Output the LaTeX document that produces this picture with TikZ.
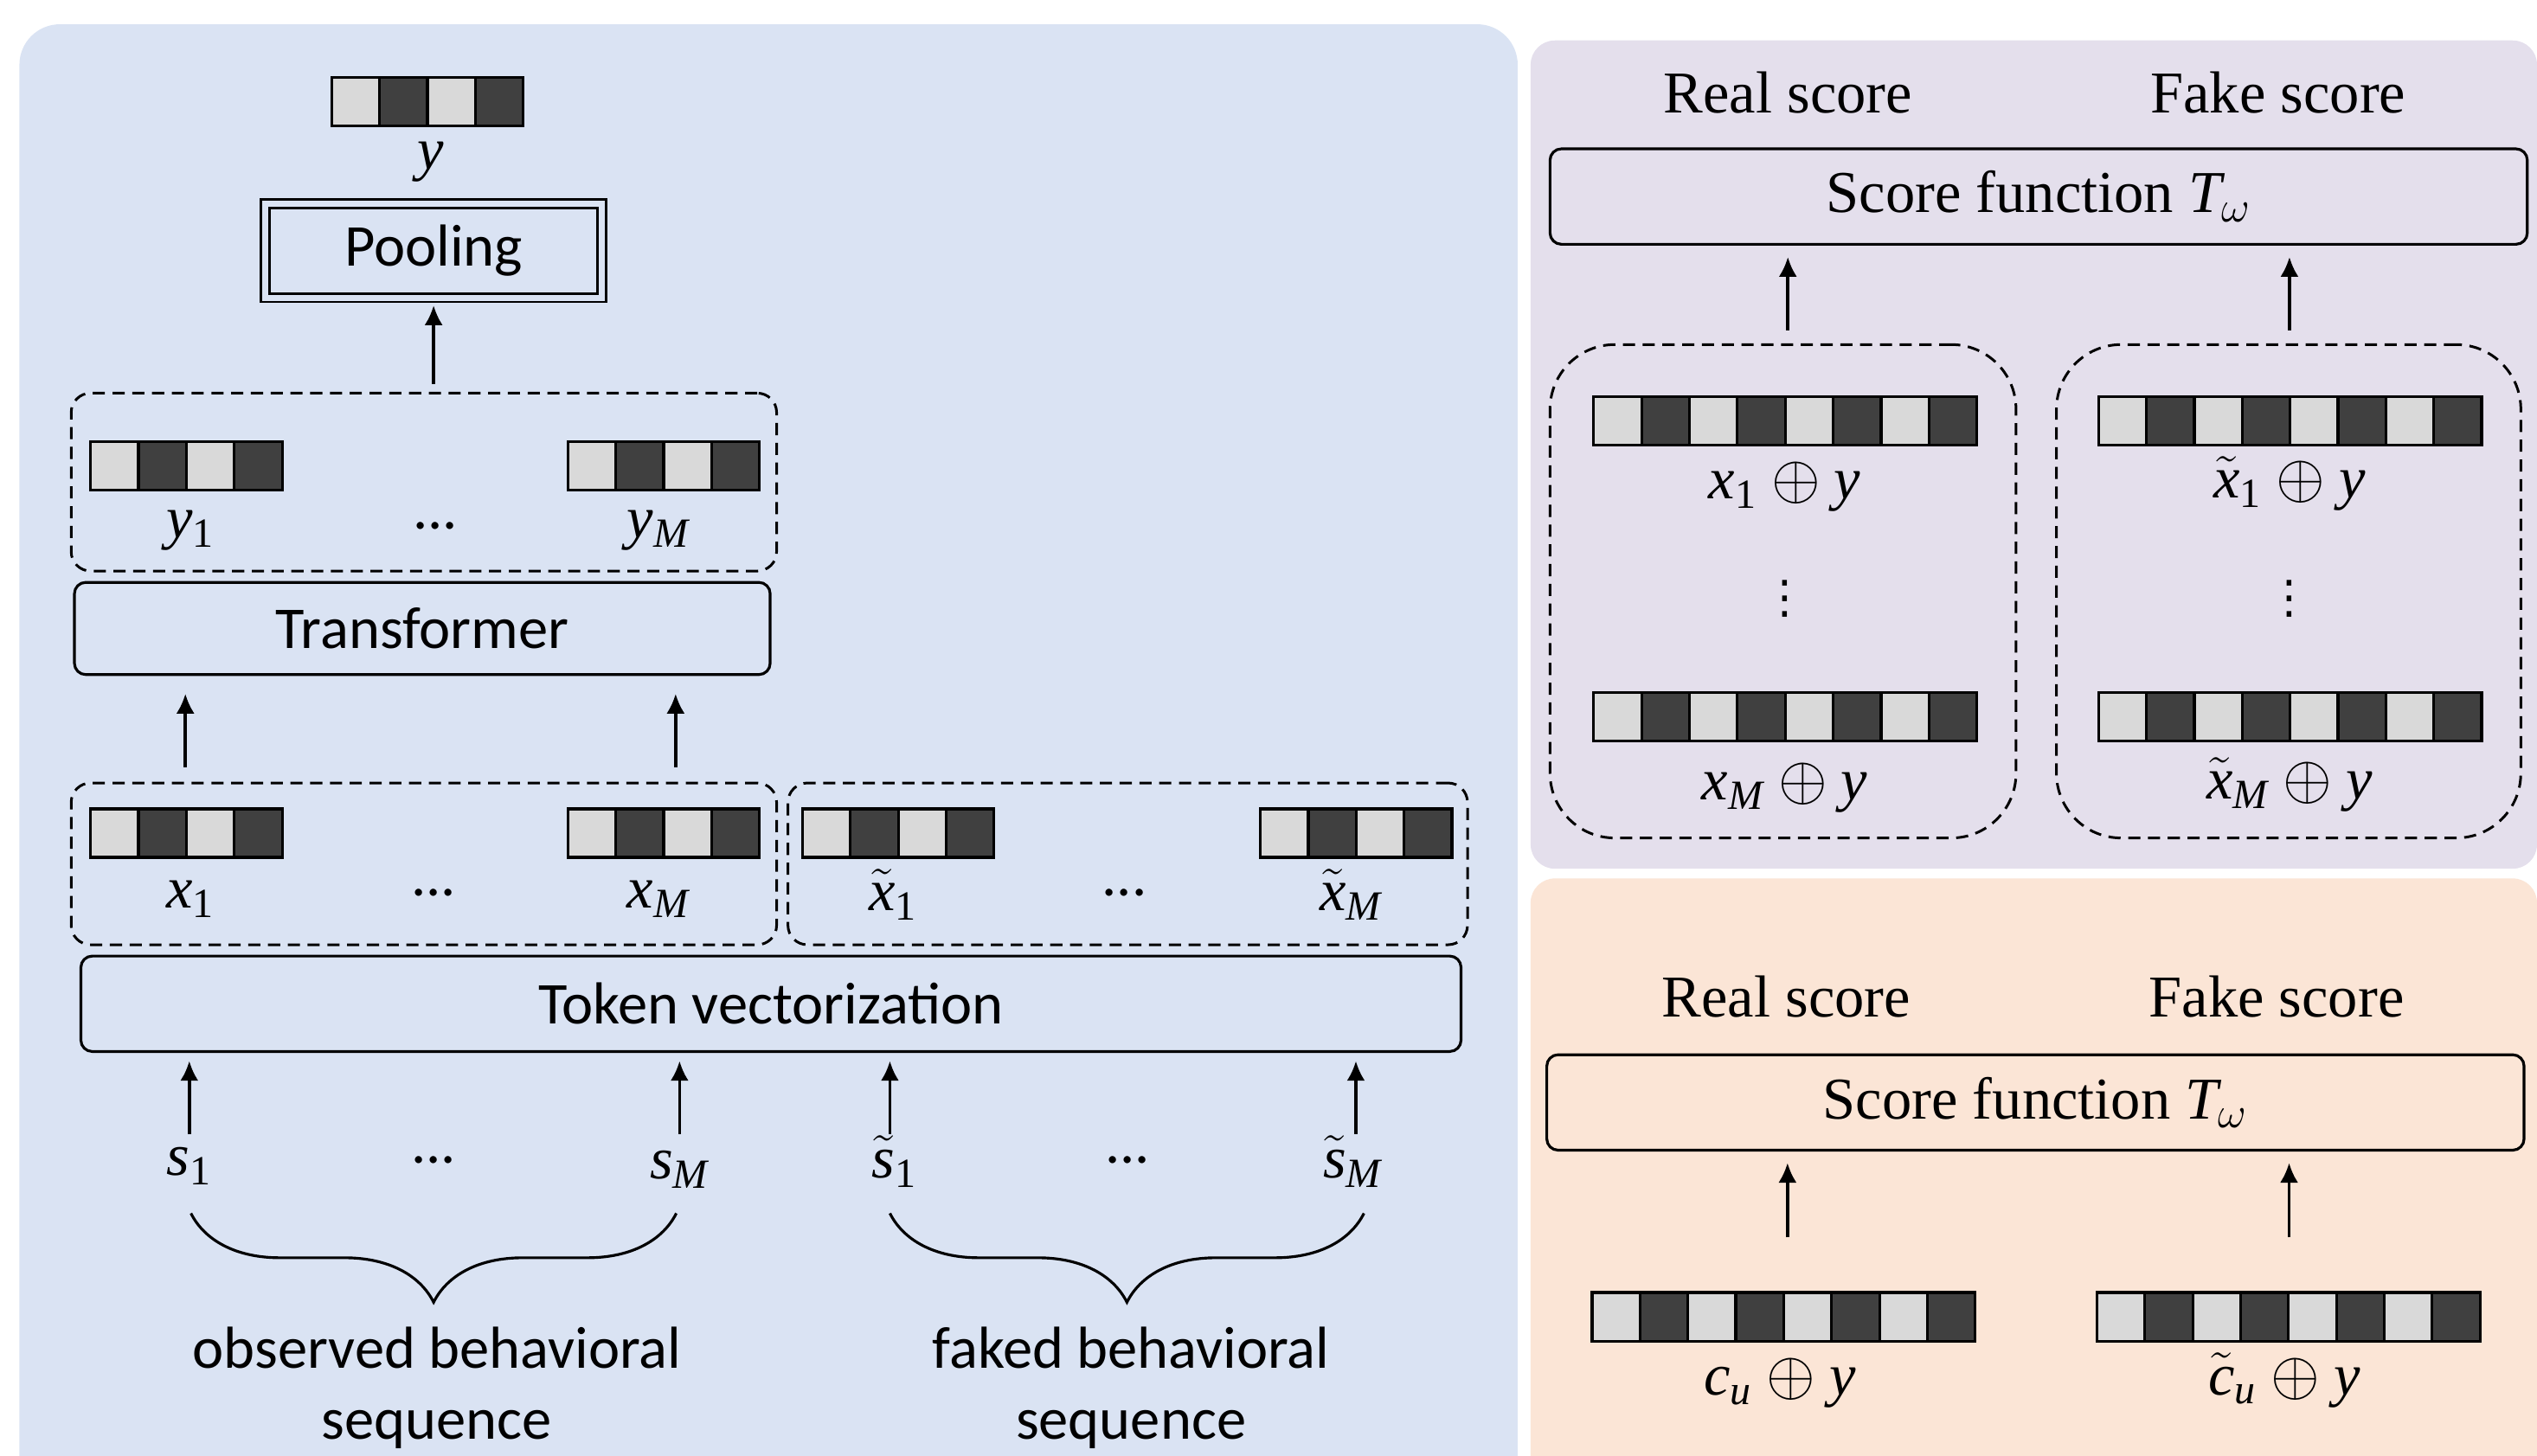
\documentclass[tikz,border=0pt]{standalone}
\usepackage{amsmath}
\usepackage{fontspec}
\setmainfont{Liberation Serif}
\setsansfont{Carlito}
\newfontfamily\tmfam{Liberation Serif}[NFSSFamily=tmser]
\newfontfamily\symfont{DejaVu Sans}
\DeclareMathAlphabet{\mv}{TU}{tmser}{m}{it}
\DeclareMathAlphabet{\mvr}{TU}{tmser}{m}{n}
\usepackage{xcolor}
\usepackage{tikz}
\usetikzlibrary{calc, arrows.meta, positioning, decorations.pathreplacing}

\definecolor{panelblue}{HTML}{DAE3F3}
\definecolor{panelpurple}{HTML}{E4DFEC}
\definecolor{panelpeach}{HTML}{FBE5D6}
\definecolor{cellL}{HTML}{D9D9D9}
\definecolor{cellD}{HTML}{404040}

\newlength{\upx}\setlength{\upx}{0.187mm}
\newcommand{\bigfont}{\fontsize{19.5}{23.4}\selectfont}
\newcommand{\vdotsym}{{\symfont\fontsize{15}{15}\selectfont ⋮}}

% a token vector: name, left x, top y, light/dark pairs
\newcommand{\cellvec}[4]{%
  \foreach \k in {1,...,#4} {
    \draw[cellbox, fill=cellL] (#2+59.2*\k-59.2, #3) rectangle ++(29.6,30);
    \draw[cellbox, fill=cellD] (#2+59.2*\k-29.6, #3) rectangle ++(29.6,30);
  }
  \node[inner sep=0pt, minimum width=#4*59.2\upx, minimum height=30\upx, anchor=north west] (#1) at (#2,#3) {};
}

\begin{document}
\begin{tikzpicture}[x=0.187mm, y=-0.187mm, >=Latex, font=\bigfont]
		\tikzstyle{block} = [draw=black, line width=0.9pt, rounded corners=7\upx, inner sep=0pt, font=\bigfont\sffamily]
		\tikzstyle{sblock} = [draw=black, line width=0.9pt, rounded corners=7\upx, inner sep=0pt, font=\bigfont]
		\tikzstyle{dashbox} = [draw=black, line width=0.85pt, dash pattern=on 4pt off 2.5pt, rounded corners=12\upx, inner sep=0pt]
		\tikzstyle{cellbox} = [draw=black, line width=0.9pt]
		\tikzstyle{lbl} = [inner sep=0pt]
		\tikzstyle{arr} = [-{Latex[length=6.5pt, width=6pt]}, line width=1.05pt]
		\tikzstyle{brc} = [line width=0.9pt, decorate, decoration={brace, mirror, amplitude=55\upx}]
		
		\useasboundingbox (0,0) rectangle (1568,900);
		\clip (0,0) rectangle (1568,900);
		
		% panels
		\fill[panelblue] (12,15) [rounded corners=25\upx] rectangle (938,960);
		\fill[panelpurple] (946,25) [rounded corners=15\upx] rectangle (1568,537);
		\fill[panelpeach] (946,543) [rounded corners=15\upx] rectangle (1568,960);
		
		% left: encoder
		\cellvec{yv}{205}{48}{2}
		\node[lbl] at (266,100) (ylab) {$\mv{y}$};
		\node[block, double=panelblue, double distance=2pt, line width=0.8pt, rounded corners=0pt,
		      minimum width=208\upx, minimum height=58\upx] at (268,155) (pool) {Pooling};
		
		\node[dashbox, minimum width=436\upx, minimum height=110\upx] at (262,298) (ybox) {};
		\cellvec{y1v}{56}{273}{2}
		\cellvec{yMv}{351}{273}{2}
		\node[lbl] at (118,328) (y1) {$\mv{y}_{\mvr{1}}$};
		\node[lbl, font=\bigfont\sffamily] at (269,325) (ydots) {...};
		\node[lbl] at (407,328) (yM) {$\mv{y}_{\mv{M}}$};
		
		\node[block, minimum width=430\upx, minimum height=57\upx] at (261,388.5) (trans) {Transformer};
		
		\node[dashbox, minimum width=436\upx, minimum height=100\upx] at (262,534) (xbox) {};
		\node[dashbox, minimum width=420\upx, minimum height=100\upx] at (697,534) (xtbox) {};
		\cellvec{x1v}{56}{500}{2}
		\cellvec{xMv}{351}{500}{2}
		\cellvec{xt1v}{496}{500}{2}
		\cellvec{xtMv}{779}{500}{2}
		\node[lbl] at (118,556) (x1) {$\mv{x}_{\mvr{1}}$};
		\node[lbl, font=\bigfont\sffamily] at (268,552) (xdots) {...};
		\node[lbl] at (407,556) (xM) {$\mv{x}_{\mv{M}}$};
		\node[lbl] at (552,553) (xt1) {$\tilde{\mv{x}}_{\mvr{1}}$};
		\node[lbl, font=\bigfont\sffamily] at (695,552) (xtdots) {...};
		\node[lbl] at (835,553) (xtM) {$\tilde{\mv{x}}_{\mv{M}}$};
		
		\node[block, minimum width=853\upx, minimum height=59\upx] at (476.5,620.5) (tok) {Token vectorization};
		
		\node[lbl] at (117,721) (s1) {$\mv{s}_{\mvr{1}}$};
		\node[lbl, font=\bigfont\sffamily] at (268,717) (sdots) {...};
		\node[lbl] at (420,723) (sM) {$\mv{s}_{\mv{M}}$};
		\node[lbl] at (553,718) (st1) {$\tilde{\mv{s}}_{\mvr{1}}$};
		\node[lbl, font=\bigfont\sffamily] at (697,717) (stdots) {...};
		\node[lbl] at (836,718) (stM) {$\tilde{\mv{s}}_{\mv{M}}$};
		
		\draw[brc] (118,750) -- (418,750);
		\draw[brc] (550,750) -- (843,750);
		\node[lbl, align=center, font=\bigfont\sffamily] at (270,858) (obs) {observed behavioral\\sequence};
		\node[lbl, align=center, font=\bigfont\sffamily] at (699,858) (fak) {faked behavioral\\sequence};
		
		\draw[arr] ($(pool.south |- ybox.north)+(0,-5)$) -- ($(pool.south)+(0,4)$);
		\draw[arr] ($(x1v.north |- xbox.north)+(-1,-9)$) -- ($(x1v.north |- trans.south)+(-1,11)$);
		\draw[arr] ($(xMv.north |- xbox.north)+(7,-9)$) -- ($(xMv.north |- trans.south)+(7,11)$);
		\draw[arr] ($(s1 |- tok.south)+(0,50)$) -- ($(s1 |- tok.south)+(0,5)$);
		\draw[arr] ($(sM |- tok.south)+(0,50)$) -- ($(sM |- tok.south)+(0,5)$);
		\draw[arr] ($(st1 |- tok.south)+(-3,50)$) -- ($(st1 |- tok.south)+(-3,5)$);
		\draw[arr] ($(stM |- tok.south)+(2,50)$) -- ($(stM |- tok.south)+(2,5)$);
		
		% right top: score on tokens
		\node[lbl] at (1105,57) (real1) {Real score};
		\node[lbl] at (1408,57) (fake1) {Fake score};
		\node[sblock, minimum width=604\upx, minimum height=59\upx] at (1260,121.5) (score1) {Score function $\mv{T}_\omega$};
		\node[dashbox, rounded corners=40\upx, minimum width=288\upx, minimum height=305\upx] at (1102,365.5) (rbox) {};
		\node[dashbox, rounded corners=40\upx, minimum width=287\upx, minimum height=305\upx] at (1414.5,365.5) (fbox) {};
		\cellvec{r1v}{985}{245}{4}
		\cellvec{rMv}{985}{428}{4}
		\cellvec{f1v}{1297}{245}{4}
		\cellvec{fMv}{1297}{428}{4}
		\node[lbl] at (1103,301) (r1) {$\mv{x}_{\mvr{1}} \oplus \mv{y}$};
		\node[lbl] at (1103,370) (rdots) {\vdotsym};
		\node[lbl] at (1103,487) (rM) {$\mv{x}_{\mv{M}} \oplus \mv{y}$};
		\node[lbl] at (1415,299) (f1) {$\tilde{\mv{x}}_{\mvr{1}} \oplus \mv{y}$};
		\node[lbl] at (1415,370) (fdots) {\vdotsym};
		\node[lbl] at (1415,485) (fM) {$\tilde{\mv{x}}_{\mv{M}} \oplus \mv{y}$};
		\draw[arr] ($(rbox.north)+(3,-8)$) -- ($(rbox.north |- score1.south)+(3,7)$);
		\draw[arr] ($(fbox.north)+(0.5,-8)$) -- ($(fbox.north |- score1.south)+(0.5,7)$);
		
		% right bottom: score on users
		\node[lbl] at (1104,616) (real2) {Real score};
		\node[lbl] at (1407,616) (fake2) {Fake score};
		\node[sblock, minimum width=604\upx, minimum height=59\upx] at (1258,681.5) (score2) {Score function $\mv{T}_\omega$};
		\cellvec{cv}{984}{799}{4}
		\cellvec{ctv}{1296}{799}{4}
		\node[lbl] at (1100,855) (cu) {$\mv{c}_{\mv{u}} \oplus \mv{y}$};
		\node[lbl] at (1412,853) (ctu) {$\tilde{\mv{c}}_{\mv{u}} \oplus \mv{y}$};
		\draw[arr] ($(cv.north)+(2,-34)$) -- ($(cv.north |- score2.south)+(2,7)$);
		\draw[arr] ($(ctv.north)+(0,-34)$) -- ($(ctv.north |- score2.south)+(0,7)$);
\end{tikzpicture}
\end{document}
